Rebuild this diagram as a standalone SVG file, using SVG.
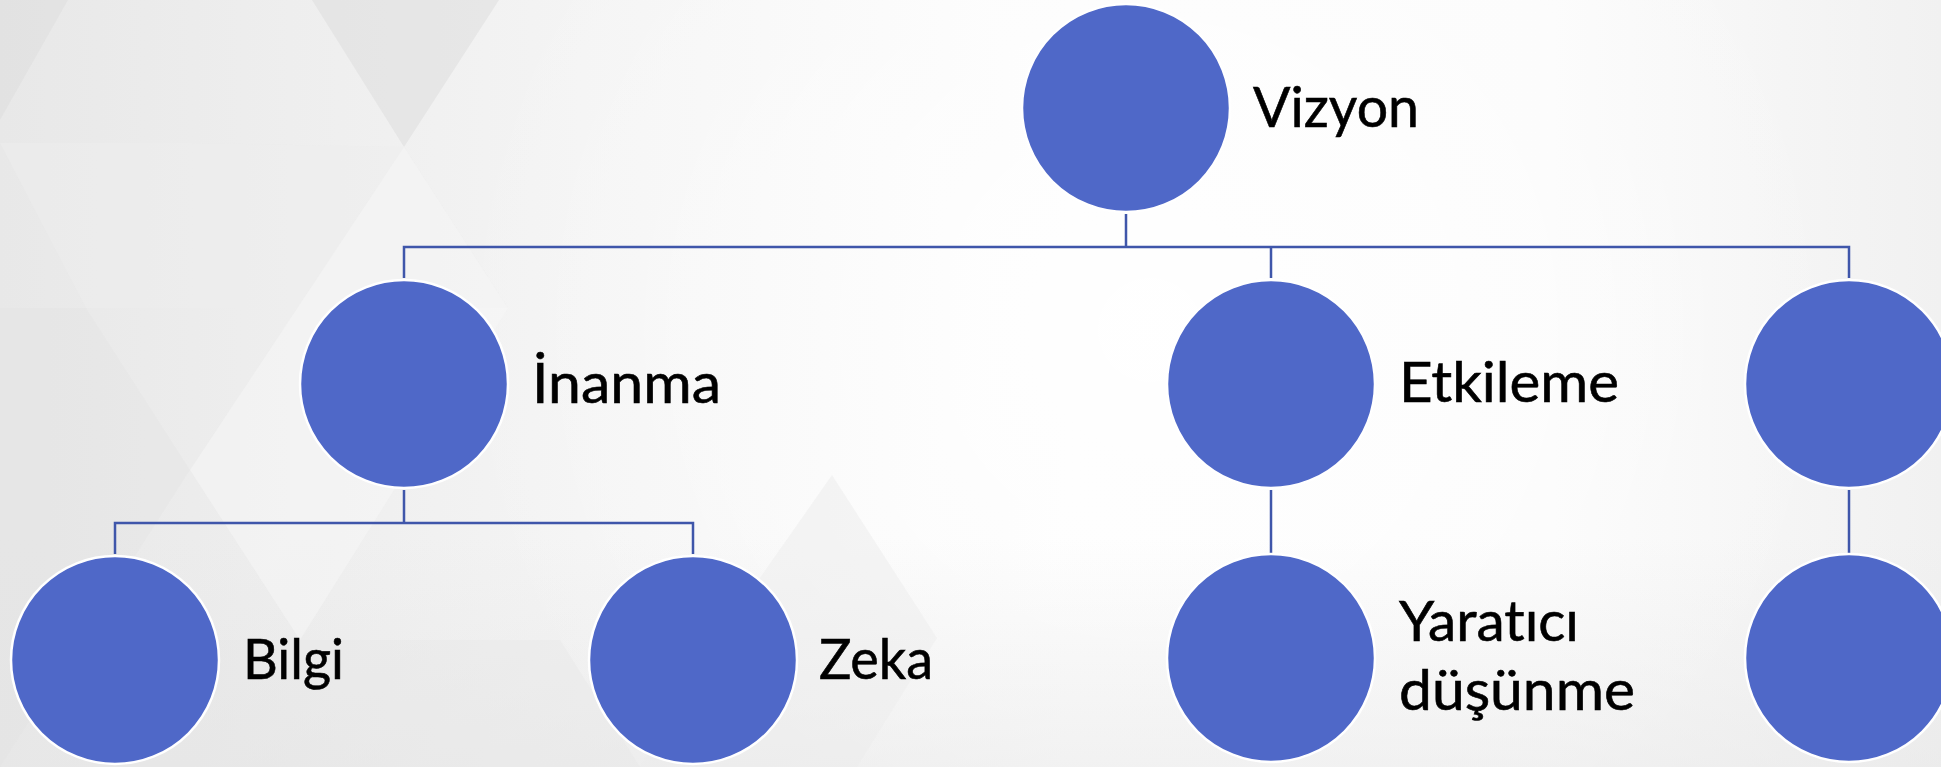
<svg xmlns="http://www.w3.org/2000/svg" width="1941" height="767" viewBox="0 0 1941 767">
  <defs>
    <linearGradient id="bg" x1="0" y1="0" x2="1" y2="0">
      <stop offset="0" stop-color="#E8E8E8"/>
      <stop offset="0.3" stop-color="#F4F4F4"/>
      <stop offset="0.55" stop-color="#FCFCFC"/>
      <stop offset="0.8" stop-color="#FBFBFB"/>
      <stop offset="1" stop-color="#F1F1F1"/>
    </linearGradient>
    <radialGradient id="glow" cx="1150" cy="330" r="700" gradientUnits="userSpaceOnUse">
      <stop offset="0" stop-color="#FFFFFF" stop-opacity="0.9"/>
      <stop offset="1" stop-color="#FFFFFF" stop-opacity="0"/>
    </radialGradient>
    <linearGradient id="bottomShade" x1="0" y1="0" x2="0" y2="1">
      <stop offset="0.7" stop-color="#E6E6E6" stop-opacity="0"/>
      <stop offset="1" stop-color="#E6E6E6" stop-opacity="0.5"/>
    </linearGradient>
  </defs>
  <style>
    .node { fill: #4F68C8; stroke: #FFFFFF; stroke-width: 2.5; }
    .conn { fill: none; stroke: #3F56AA; stroke-width: 2.5; }
    .label { font-family: Lato, "Open Sans", "Liberation Sans", sans-serif; font-size: 57px; fill: #000000; font-variant-ligatures: none; stroke: #000000; stroke-width: 0.6; }
    .tri { stroke: none; }
  </style>

  <g id="background">
    <rect x="0" y="0" width="1941" height="767" fill="url(#bg)"/>
    <rect x="0" y="0" width="1941" height="767" fill="url(#glow)"/>
    <rect x="0" y="0" width="1941" height="767" fill="url(#bottomShade)"/>
    <polygon class="tri" points="0,0 68,0 0,120" fill="#DCDCDC" fill-opacity="0.45"/>
    <polygon class="tri" points="312,0 499,0 404,147" fill="#DADADA" fill-opacity="0.45"/>
    <polygon class="tri" points="0,143 192,143 404,147 508,308 86,308" fill="#EDEDED" fill-opacity="0.5"/>
    <polygon class="tri" points="0,308 86,308 190,470 0,767" fill="#E2E2E2" fill-opacity="0.35"/>
    <polygon class="tri" points="190,470 404,147 508,308 300,640" fill="#F8F8F8" fill-opacity="0.5"/>
    <polygon class="tri" points="832,475 937,638 718,638" fill="#EFEFEF" fill-opacity="0.6"/>
    <polygon class="tri" points="718,638 937,638 857,767 640,767" fill="#EBEBEB" fill-opacity="0.4"/>
    <polygon class="tri" points="160,640 560,640 640,767 90,767" fill="#E6E6E6" fill-opacity="0.3"/>
  </g>

  <g id="connectors">
    <path class="conn" d="M1126,214 V247 M404,278 V247 H1849 V278 M1271,247 V278"/>
    <path class="conn" d="M404,490 V523 M115,554 V523 H693 V554"/>
    <path class="conn" d="M1271,490 V553"/>
    <path class="conn" d="M1849,490 V553"/>
  </g>

  <g id="node-vizyon">
    <circle class="node" cx="1126" cy="108" r="104"/>
    <text class="label" x="1253" y="127" textLength="166" lengthAdjust="spacingAndGlyphs">Vizyon</text>
  </g>
  <g id="node-inanma">
    <circle class="node" cx="404" cy="384" r="104"/>
    <text class="label" x="532" y="403" textLength="189" lengthAdjust="spacingAndGlyphs">İnanma</text>
  </g>
  <g id="node-etkileme">
    <circle class="node" cx="1271" cy="384" r="104"/>
    <text class="label" x="1399" y="402" textLength="220" lengthAdjust="spacingAndGlyphs">Etkileme</text>
  </g>
  <g id="node-right-top">
    <circle class="node" cx="1849" cy="384" r="104"/>
  </g>
  <g id="node-bilgi">
    <circle class="node" cx="115" cy="660" r="104"/>
    <text class="label" x="243" y="679" textLength="101" lengthAdjust="spacingAndGlyphs">Bilgi</text>
  </g>
  <g id="node-zeka">
    <circle class="node" cx="693" cy="660" r="104"/>
    <text class="label" x="819" y="679" textLength="114" lengthAdjust="spacingAndGlyphs">Zeka</text>
  </g>
  <g id="node-yaratici">
    <circle class="node" cx="1271" cy="658" r="104"/>
    <text class="label" x="1399" y="641" textLength="180" lengthAdjust="spacingAndGlyphs">Yaratıcı</text>
    <text class="label" x="1399" y="710" textLength="236" lengthAdjust="spacingAndGlyphs">düşünme</text>
  </g>
  <g id="node-right-bottom">
    <circle class="node" cx="1849" cy="658" r="104"/>
  </g>
</svg>
